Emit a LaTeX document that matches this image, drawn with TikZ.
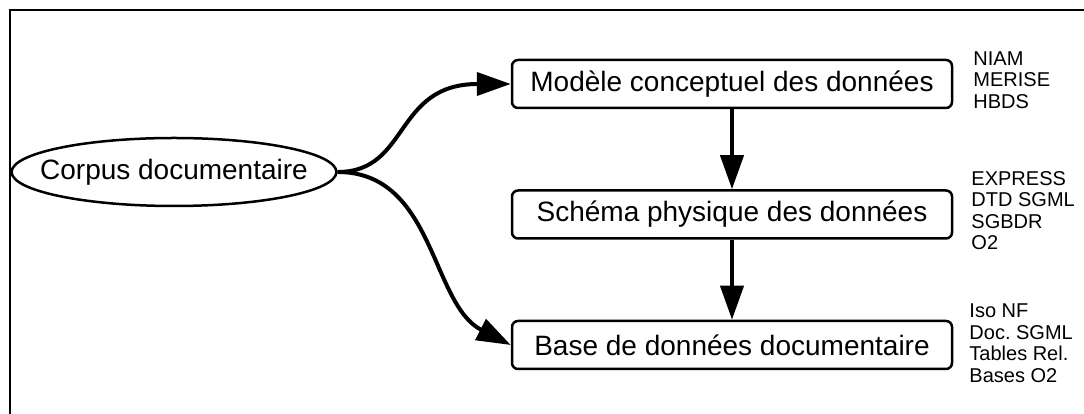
\documentclass[tikz,border=0pt]{standalone}
\usepackage{fontspec}
\setmainfont{Liberation Sans}
\usetikzlibrary{shapes.geometric,arrows.meta,positioning}
\frenchspacing

\begin{document}
\begin{tikzpicture}[
  x=1pt, y=1pt,
  corpusbox/.style={
    ellipse, draw, line width=2.5pt, minimum width=318pt, minimum height=68pt,
    inner xsep=-19pt, inner ysep=6pt, font=\fontsize{28}{32}\selectfont
  },
  databox/.style={
    rectangle, draw, line width=2.5pt, rounded corners=6pt,
    minimum width=440pt, minimum height=48pt, inner sep=0pt,
    font=\fontsize{28}{32}\selectfont
  },
  toollist/.style={anchor=west, align=left, inner sep=0pt, font=\fontsize{20}{21.5}\selectfont},
  arr/.style={-{Triangle[length=34pt,width=23pt]}, line width=4pt},
  frameline/.style={line width=2.5pt}
]
\useasboundingbox (0,0) rectangle (1084,414);

% --- Frame (top and left edges)
\coordinate (fbot)    at (10,0);
\coordinate (fcorner) at (10,404);
\coordinate (fright)  at (1084,404);
\draw[frameline] (fbot) -- (fcorner) -- (fright);

% --- Source corpus
\node[corpusbox] (corpus) at (174,242) {Corpus documentaire};

% --- Data levels (column)
\node[databox] (mcd) at (732,330) {Modèle conceptuel des données};
\node[databox, below=80pt of mcd] (mpd) {Schéma physique des données};
\node[databox, below=80pt of mpd] (bdd) {Base de données documentaire};

% --- Tool lists
\node[toollist, right=20pt of mcd.east, yshift=4pt] (tmcd) {NIAM\\MERISE\\HBDS};
\node[toollist, right=18pt of mpd.east, yshift=4pt] (tmpd) {EXPRESS\\DTD SGML\\SGBDR\\O2};
\node[toollist, right=16pt of bdd.east, yshift=2pt] (tbdd) {Iso NF\\Doc. SGML\\Tables Rel.\\Bases O2};

% --- Arrows: corpus -> top and bottom levels
\draw[arr] (corpus.east) .. controls +(72,0) and +(-117,0) .. (mcd.west);
\draw[arr] (corpus.east) .. controls +(97,0) and +(-80,41) .. (bdd.west);

% --- Arrows: down the column
\draw[arr] (mcd) -- (mpd);
\draw[arr] (mpd) -- (bdd);

\end{tikzpicture}
\end{document}
